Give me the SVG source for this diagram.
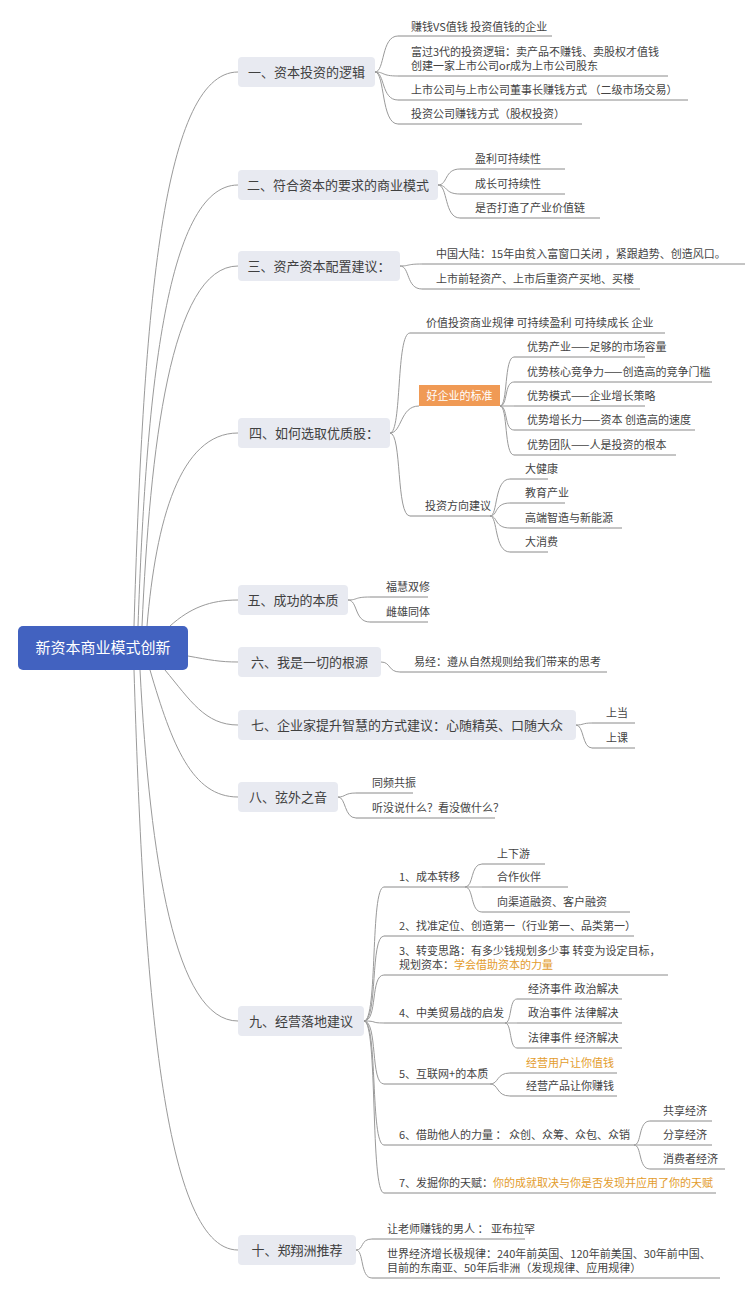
<svg xmlns="http://www.w3.org/2000/svg" width="750" height="1295" viewBox="0 0 750 1295">
<style>
text{font-family:"Noto Sans CJK SC","Noto Sans",sans-serif}
.c{fill:none;stroke:#9a9a9a;stroke-width:1}
.u{stroke:#8a8a8a;stroke-width:1}
.b{fill:#e8eaf1}
.t1{font-size:13px;fill:#404040;text-anchor:middle}
.t2{font-size:11px;fill:#444}
.o{fill:#e39c2c}
</style>
<rect width="750" height="1295" fill="#fff"/>
<g id="connectors">
<path class="c" d="M134 626 C143 330,160 72,238 72"/>
<path class="c" d="M138 626 C146 400,165 185,238 185"/>
<path class="c" d="M142 626 C150 450,170 266,238 266"/>
<path class="c" d="M147 626 C156 520,180 433,238 433"/>
<path class="c" d="M170 626 C190 608,210 600,238 600"/>
<path class="c" d="M188 656 C210 660,220 662,238 662"/>
<path class="c" d="M165 670 C190 700,205 725,238 725"/>
<path class="c" d="M150 670 C172 745,192 797,238 797"/>
<path class="c" d="M140 670 C150 860,175 1021,238 1021"/>
<path class="c" d="M134 670 C143 960,160 1250,238 1250"/>
<path class="c" d="M375 72 C385 72,381 36,398 36"/>
<path class="c" d="M375 72 C385 72,381 76,398 76"/>
<path class="c" d="M375 72 C385 72,381 100,398 100"/>
<path class="c" d="M375 72 C385 72,381 124,398 124"/>
<path class="c" d="M438 185 C448 185,444 169,460 169"/>
<path class="c" d="M438 185 C448 185,444 194,460 194"/>
<path class="c" d="M438 185 C448 185,444 218,460 218"/>
<path class="c" d="M400 266 C410 266,406 264,422 264"/>
<path class="c" d="M400 266 C410 266,406 289,422 289"/>
<path class="c" d="M390 433 C402 433,396 333,410 333"/>
<path class="c" d="M390 433 C402 433,400 406,419 406"/>
<path class="c" d="M390 433 C402 433,396 516,410 516"/>
<path class="c" d="M500 406 C508 406,504 357,514 357"/>
<path class="c" d="M500 406 C508 406,504 382,514 382"/>
<path class="c" d="M500 406 L514 406"/>
<path class="c" d="M500 406 C508 406,504 430,514 430"/>
<path class="c" d="M500 406 C508 406,504 455,514 455"/>
<path class="c" d="M490 516 C498 516,494 479,510 479"/>
<path class="c" d="M490 516 C498 516,494 503,510 503"/>
<path class="c" d="M490 516 C498 516,494 528,510 528"/>
<path class="c" d="M490 516 C498 516,494 552,510 552"/>
<path class="c" d="M348 600 C358 600,354 597,370 597"/>
<path class="c" d="M348 600 C358 600,354 622,370 622"/>
<path class="c" d="M381 662 C391 662,388 672,400 672"/>
<path class="c" d="M576 725 C584 725,582 723,592 723"/>
<path class="c" d="M576 725 C584 725,582 748,592 748"/>
<path class="c" d="M338 797 C346 797,344 793,356 793"/>
<path class="c" d="M338 797 C346 797,344 818,356 818"/>
<path class="c" d="M364 1021 C378 1021,370 887,384 887"/>
<path class="c" d="M364 1021 C378 1021,370 936,384 936"/>
<path class="c" d="M364 1021 C378 1021,370 975,384 975"/>
<path class="c" d="M364 1021 C378 1021,370 1023,384 1023"/>
<path class="c" d="M364 1021 C378 1021,370 1084,384 1084"/>
<path class="c" d="M364 1021 C378 1021,370 1145,384 1145"/>
<path class="c" d="M364 1021 C378 1021,370 1193,384 1193"/>
<path class="c" d="M465 887 C474 887,470 864,482 864"/>
<path class="c" d="M465 887 L482 887"/>
<path class="c" d="M465 887 C474 887,470 912,482 912"/>
<path class="c" d="M505 1023 C512 1023,509 999,517 999"/>
<path class="c" d="M505 1023 L517 1023"/>
<path class="c" d="M505 1023 C512 1023,509 1048,517 1048"/>
<path class="c" d="M490 1084 C499 1084,496 1073,510 1073"/>
<path class="c" d="M490 1084 C499 1084,496 1096,510 1096"/>
<path class="c" d="M634 1145 C642 1145,638 1121,650 1121"/>
<path class="c" d="M634 1145 L650 1145"/>
<path class="c" d="M634 1145 C642 1145,638 1169,650 1169"/>
<path class="c" d="M356 1250 C364 1250,360 1239,372 1239"/>
<path class="c" d="M356 1250 C364 1250,360 1278,372 1278"/>
</g>
<g id="root">
<rect x="18" y="626" width="170" height="44" rx="5" fill="#4262c0"/>
<text x="103" y="653" font-size="15" fill="#fff" text-anchor="middle">新资本商业模式创新</text>
</g>
<g id="n1">
<rect class="b" x="238" y="57" width="137" height="30" rx="4"/>
<text class="t1" x="306.5" y="77">一、资本投资的逻辑</text>
</g>
<g id="n1-1"><line class="u" x1="398" y1="36" x2="552" y2="36"/><text class="t2" x="411" y="31">赚钱VS值钱 投资值钱的企业</text></g>
<g id="n1-2"><line class="u" x1="398" y1="76" x2="668" y2="76"/><text class="t2" x="411" y="56">富过3代的投资逻辑：卖产品不赚钱、卖股权才值钱</text><text class="t2" x="411" y="70">创建一家上市公司or成为上市公司股东</text></g>
<g id="n1-3"><line class="u" x1="398" y1="100" x2="688" y2="100"/><text class="t2" x="411" y="94">上市公司与上市公司董事长赚钱方式 （二级市场交易）</text></g>
<g id="n1-4"><line class="u" x1="398" y1="124" x2="582" y2="124"/><text class="t2" x="411" y="118">投资公司赚钱方式（股权投资）</text></g>
<g id="n2">
<rect class="b" x="238" y="170" width="200" height="30" rx="4"/>
<text class="t1" x="338" y="190">二、符合资本的要求的商业模式</text>
</g>
<g id="n2-1"><line class="u" x1="460" y1="169" x2="565" y2="169"/><text class="t2" x="475" y="163">盈利可持续性</text></g>
<g id="n2-2"><line class="u" x1="460" y1="194" x2="565" y2="194"/><text class="t2" x="475" y="188">成长可持续性</text></g>
<g id="n2-3"><line class="u" x1="460" y1="218" x2="600" y2="218"/><text class="t2" x="475" y="212">是否打造了产业价值链</text></g>
<g id="n3">
<rect class="b" x="238" y="251" width="162" height="30" rx="4"/>
<text class="t1" x="319" y="271">三、资产资本配置建议：</text>
</g>
<g id="n3-1"><line class="u" x1="422" y1="264" x2="745" y2="264"/><text class="t2" x="436" y="258">中国大陆：15年由贫入富窗口关闭 ，紧跟趋势、创造风口。</text></g>
<g id="n3-2"><line class="u" x1="422" y1="289" x2="640" y2="289"/><text class="t2" x="436" y="283">上市前轻资产、上市后重资产买地、买楼</text></g>
<g id="n4">
<rect class="b" x="238" y="418" width="152" height="30" rx="4"/>
<text class="t1" x="314" y="438">四、如何选取优质股：</text>
</g>
<g id="n4-1"><line class="u" x1="410" y1="333" x2="665" y2="333"/><text class="t2" x="426" y="327">价值投资商业规律  可持续盈利 可持续成长 企业</text></g>
<g id="n4-2">
<rect x="419" y="385" width="81" height="21" fill="#f09a55"/>
<text class="t2" x="459.5" y="399.5" style="fill:#fff" text-anchor="middle">好企业的标准</text>
</g>
<g id="n4-2-1"><line class="u" x1="514" y1="357" x2="645" y2="357"/><text class="t2" x="527" y="351">优势产业——足够的市场容量</text></g>
<g id="n4-2-2"><line class="u" x1="514" y1="382" x2="712" y2="382"/><text class="t2" x="527" y="376">优势核心竞争力——创造高的竞争门槛</text></g>
<g id="n4-2-3"><line class="u" x1="514" y1="406" x2="645" y2="406"/><text class="t2" x="527" y="400">优势模式——企业增长策略</text></g>
<g id="n4-2-4"><line class="u" x1="514" y1="430" x2="695" y2="430"/><text class="t2" x="527" y="424">优势增长力——资本 创造高的速度</text></g>
<g id="n4-2-5"><line class="u" x1="514" y1="455" x2="676" y2="455"/><text class="t2" x="527" y="449">优势团队——人是投资的根本</text></g>
<g id="n4-3"><line class="u" x1="410" y1="516" x2="490" y2="516"/><text class="t2" x="425" y="510">投资方向建议</text></g>
<g id="n4-3-1"><line class="u" x1="510" y1="479" x2="548" y2="479"/><text class="t2" x="525" y="473">大健康</text></g>
<g id="n4-3-2"><line class="u" x1="510" y1="503" x2="565" y2="503"/><text class="t2" x="525" y="497">教育产业</text></g>
<g id="n4-3-3"><line class="u" x1="510" y1="528" x2="622" y2="528"/><text class="t2" x="525" y="522">高端智造与新能源</text></g>
<g id="n4-3-4"><line class="u" x1="510" y1="552" x2="548" y2="552"/><text class="t2" x="525" y="546">大消费</text></g>
<g id="n5">
<rect class="b" x="238" y="585" width="110" height="30" rx="4"/>
<text class="t1" x="293" y="605">五、成功的本质</text>
</g>
<g id="n5-1"><line class="u" x1="370" y1="597" x2="428" y2="597"/><text class="t2" x="386" y="591">福慧双修</text></g>
<g id="n5-2"><line class="u" x1="370" y1="622" x2="428" y2="622"/><text class="t2" x="386" y="616">雌雄同体</text></g>
<g id="n6">
<rect class="b" x="238" y="647" width="143" height="30" rx="4"/>
<text class="t1" x="309.5" y="667">六、我是一切的根源</text>
</g>
<g id="n6-1"><line class="u" x1="400" y1="672" x2="607" y2="672"/><text class="t2" x="414" y="666">易经：遵从自然规则给我们带来的思考</text></g>
<g id="n7">
<rect class="b" x="238" y="710" width="338" height="30" rx="4"/>
<text class="t1" x="407" y="730">七、企业家提升智慧的方式建议：心随精英、口随大众</text>
</g>
<g id="n7-1"><line class="u" x1="592" y1="723" x2="635" y2="723"/><text class="t2" x="606" y="717">上当</text></g>
<g id="n7-2"><line class="u" x1="592" y1="748" x2="635" y2="748"/><text class="t2" x="606" y="742">上课</text></g>
<g id="n8">
<rect class="b" x="238" y="782" width="100" height="30" rx="4"/>
<text class="t1" x="288" y="802">八、弦外之音</text>
</g>
<g id="n8-1"><line class="u" x1="356" y1="793" x2="413" y2="793"/><text class="t2" x="372" y="787">同频共振</text></g>
<g id="n8-2"><line class="u" x1="356" y1="818" x2="495" y2="818"/><text class="t2" x="372" y="812">听没说什么？看没做什么？</text></g>
<g id="n9">
<rect class="b" x="238" y="1006" width="126" height="30" rx="4"/>
<text class="t1" x="301" y="1026">九、经营落地建议</text>
</g>
<g id="n9-1"><line class="u" x1="384" y1="887" x2="465" y2="887"/><text class="t2" x="399" y="881">1、成本转移</text></g>
<g id="n9-1-1"><line class="u" x1="482" y1="864" x2="545" y2="864"/><text class="t2" x="497" y="858">上下游</text></g>
<g id="n9-1-2"><line class="u" x1="482" y1="887" x2="568" y2="887"/><text class="t2" x="497" y="881">合作伙伴</text></g>
<g id="n9-1-3"><line class="u" x1="482" y1="912" x2="630" y2="912"/><text class="t2" x="497" y="906">向渠道融资、客户融资</text></g>
<g id="n9-2"><line class="u" x1="384" y1="936" x2="634" y2="936"/><text class="t2" x="399" y="930">2、找准定位、创造第一（行业第一、品类第一）</text></g>
<g id="n9-3"><line class="u" x1="384" y1="975" x2="668" y2="975"/><text class="t2" x="399" y="955">3、转变思路：有多少钱规划多少事 转变为设定目标，</text><text class="t2" x="399" y="969">规划资本：<tspan class="o">学会借助资本的力量</tspan></text></g>
<g id="n9-4"><line class="u" x1="384" y1="1023" x2="505" y2="1023"/><text class="t2" x="399" y="1017">4、中美贸易战的启发</text></g>
<g id="n9-4-1"><line class="u" x1="517" y1="999" x2="622" y2="999"/><text class="t2" x="528" y="993">经济事件 政治解决</text></g>
<g id="n9-4-2"><line class="u" x1="517" y1="1023" x2="622" y2="1023"/><text class="t2" x="528" y="1017">政治事件 法律解决</text></g>
<g id="n9-4-3"><line class="u" x1="517" y1="1048" x2="622" y2="1048"/><text class="t2" x="528" y="1042">法律事件 经济解决</text></g>
<g id="n9-5"><line class="u" x1="384" y1="1084" x2="490" y2="1084"/><text class="t2" x="399" y="1078">5、互联网+的本质</text></g>
<g id="n9-5-1"><line class="u" x1="510" y1="1073" x2="617" y2="1073"/><text class="t2 o" x="526" y="1067">经营用户让你值钱</text></g>
<g id="n9-5-2"><line class="u" x1="510" y1="1096" x2="617" y2="1096"/><text class="t2" x="526" y="1090">经营产品让你赚钱</text></g>
<g id="n9-6"><line class="u" x1="384" y1="1145" x2="634" y2="1145"/><text class="t2" x="399" y="1139">6、借助他人的力量 ： 众创、众筹、众包、众销</text></g>
<g id="n9-6-1"><line class="u" x1="650" y1="1121" x2="712" y2="1121"/><text class="t2" x="663" y="1115">共享经济</text></g>
<g id="n9-6-2"><line class="u" x1="650" y1="1145" x2="712" y2="1145"/><text class="t2" x="663" y="1139">分享经济</text></g>
<g id="n9-6-3"><line class="u" x1="650" y1="1169" x2="725" y2="1169"/><text class="t2" x="663" y="1163">消费者经济</text></g>
<g id="n9-7"><line class="u" x1="384" y1="1193" x2="716" y2="1193"/><text class="t2" x="399" y="1187">7、发掘你的天赋：<tspan class="o">你的成就取决与你是否发现并应用了你的天赋</tspan></text></g>
<g id="n10">
<rect class="b" x="238" y="1235" width="118" height="30" rx="4"/>
<text class="t1" x="297" y="1255">十、郑翔洲推荐</text>
</g>
<g id="n10-1"><line class="u" x1="372" y1="1239" x2="525" y2="1239"/><text class="t2" x="387" y="1233">让老师赚钱的男人 ： 亚布拉罕</text></g>
<g id="n10-2"><line class="u" x1="372" y1="1278" x2="720" y2="1278"/><text class="t2" x="387" y="1258">世界经济增长极规律：240年前英国、120年前美国、30年前中国、</text><text class="t2" x="387" y="1272">目前的东南亚、50年后非洲（发现规律、应用规律）</text></g>
</svg>
